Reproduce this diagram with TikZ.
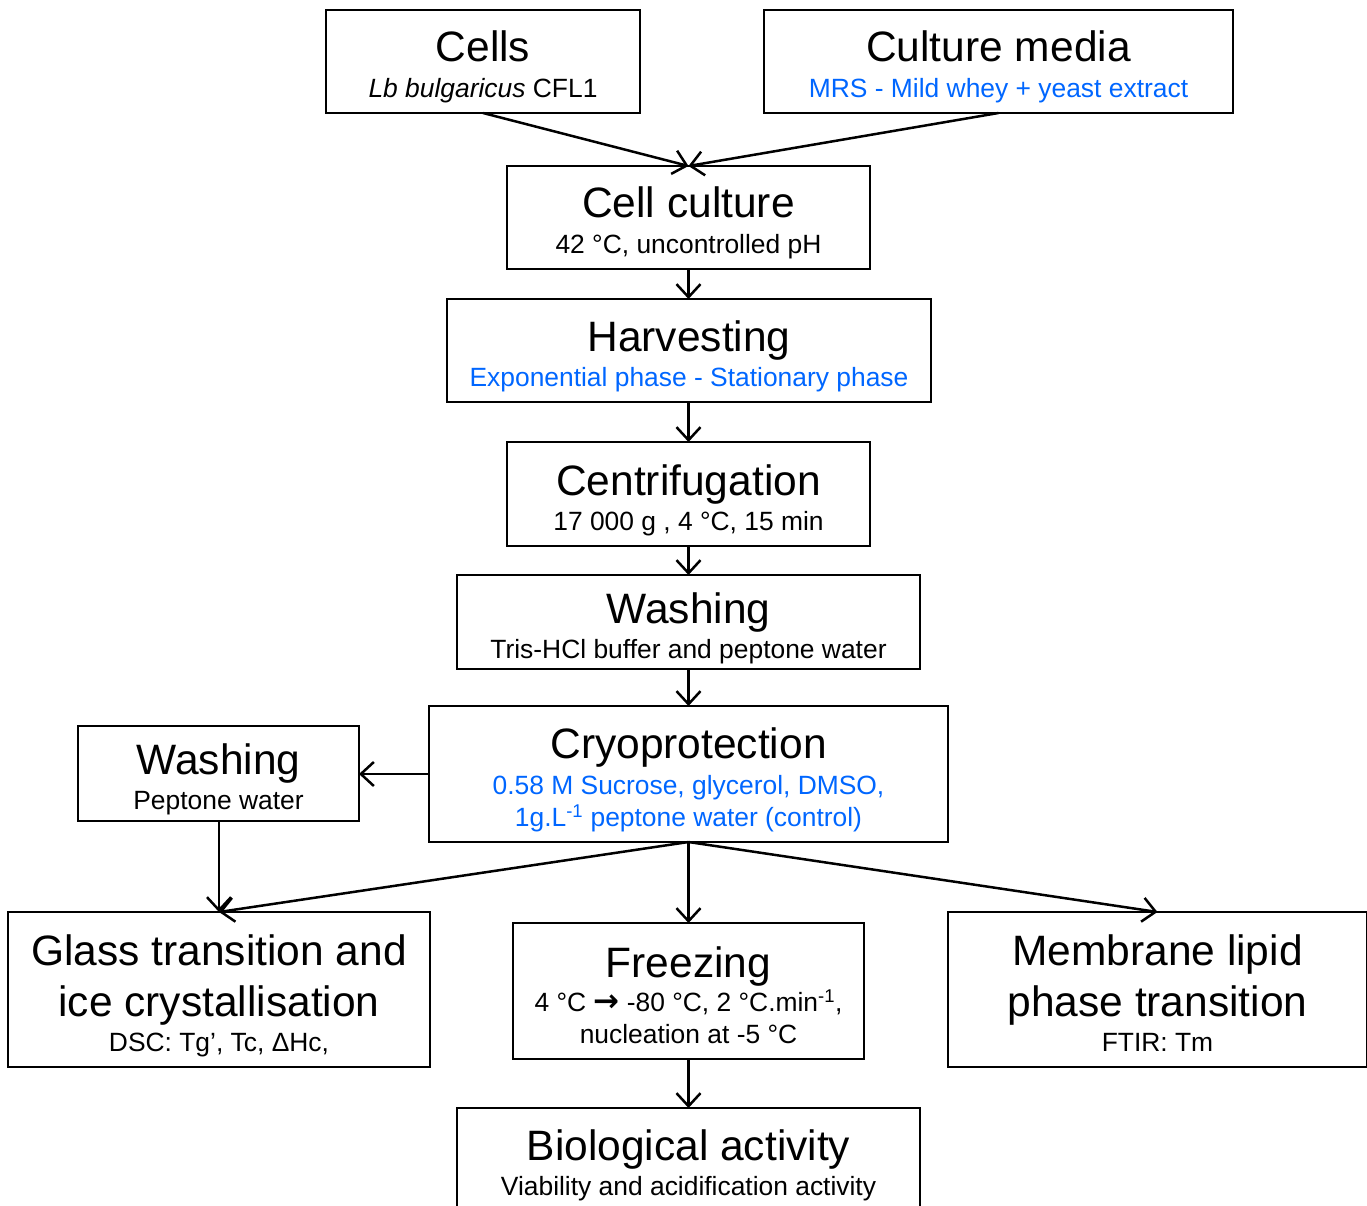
\documentclass[tikz,border=0pt]{standalone}
\usepackage{fontspec}
\setmainfont{Liberation Sans}
\newfontfamily\arrowfont{DejaVu Sans}
\usetikzlibrary{arrows.meta}
\definecolor{myblue}{RGB}{0,102,255}
\begin{document}
\begin{tikzpicture}[x=1pt,y=-1pt,
 box/.style={draw, line width=2.5pt, rectangle, inner sep=0pt, outer sep=0pt},
 ttl/.style={inner sep=0pt, anchor=base, font=\fontsize{42.5}{50}\selectfont},
 subt/.style={inner sep=0pt, anchor=base, font=\fontsize{26.4}{31}\selectfont},
 bsubt/.style={subt, text=myblue},
 arr/.style={line width=2.5pt, -{Straight Barb[length=13pt,width=24pt]}}]
\useasboundingbox (0,0) rectangle (1367,1206);
% boxes
\node[box, minimum width=314pt, minimum height=103pt] (cells) at (483,61.5) {};
\node[box, minimum width=469pt, minimum height=103pt] (media) at (998.5,61.5) {};
\node[box, minimum width=363pt, minimum height=103pt] (cc) at (688.5,217.5) {};
\node[box, minimum width=484pt, minimum height=103pt] (harv) at (689,350.5) {};
\node[box, minimum width=363pt, minimum height=104pt] (cent) at (688.5,494) {};
\node[box, minimum width=463pt, minimum height=94pt] (wash) at (688.5,622) {};
\node[box, minimum width=519pt, minimum height=136pt] (cryo) at (688.5,774) {};
\node[box, minimum width=281pt, minimum height=95pt] (lw) at (218.5,773.5) {};
\node[box, minimum width=422pt, minimum height=155pt] (glass) at (219,989.5) {};
\node[box, minimum width=351pt, minimum height=136pt] (freez) at (688.5,991) {};
\node[box, minimum width=419pt, minimum height=155pt] (memb) at (1157.5,989.5) {};
\node[box, minimum width=463pt, minimum height=124pt] (bio) at (688.5,1170) {};
% texts
\node[ttl] (cellsT) at (483,62) {Cells};
\node[subt] (cellsS) at (483,97.3) {\itshape Lb bulgaricus\upshape{} CFL1};
\node[ttl] (mediaT) at (998.5,62) {Culture media};
\node[bsubt] (mediaS) at (998.5,97.3) {MRS - Mild whey + yeast extract};
\node[ttl] (ccT) at (688.5,218) {Cell culture};
\node[subt] (ccS) at (688.5,253.3) {42 °C, uncontrolled pH};
\node[ttl] (harvT) at (689,351) {Harvesting};
\node[bsubt] (harvS) at (689,386.3) {Exponential phase - Stationary phase};
\node[ttl] (centT) at (688.5,495) {Centrifugation};
\node[subt] (centS) at (688.5,530.3) {17 000 g , 4 °C, 15 min};
\node[ttl] (washT) at (688.5,623) {Washing};
\node[subt] (washS) at (688.5,658.3) {Tris-HCl buffer and peptone water};
\node[ttl] (cryoT) at (688.5,758) {Cryoprotection};
\node[bsubt] (cryoS1) at (688.5,794.3) {0.58 M Sucrose, glycerol, DMSO,};
\node[bsubt] (cryoS2) at (688.5,826.3) {1g.L\textsuperscript{-1} peptone water (control)};
\node[ttl] (lwT) at (218.5,774) {Washing};
\node[subt] (lwS) at (218.5,809.3) {Peptone water};
\node[ttl] (glassT1) at (219,965) {Glass transition and};
\node[ttl] (glassT2) at (219,1016) {ice crystallisation};
\node[subt] (glassS) at (219,1051.3) {DSC: Tg’, Tc, ΔHc,};
\node[ttl] (freezT) at (688.5,977) {Freezing};
\node[subt] (freezS1) at (688.5,1011.3) {4 °C {\arrowfont\bfseries\fontsize{31}{31}\selectfont →} -80 °C, 2 °C.min\textsuperscript{-1},};
\node[subt] (freezS2) at (688.5,1043.3) {nucleation at -5 °C};
\node[ttl] (membT1) at (1157.5,965) {Membrane lipid};
\node[ttl] (membT2) at (1157.5,1016) {phase transition};
\node[subt] (membS) at (1157.5,1051.3) {FTIR: Tm};
\node[ttl] (bioT) at (688.5,1160) {Biological activity};
\node[subt] (bioS) at (688.5,1195.3) {Viability and acidification activity};
% connectors
\draw[arr] (cells.south) -- (cc.north);
\draw[arr] (media.south) -- (cc.north);
\draw[arr] (cc.south) -- (cc.south |- harv.north);
\draw[arr] (harv.south -| cc.south) -- (cent.north);
\draw[arr] (cent.south) -- (wash.north);
\draw[arr] (wash.south) -- (cryo.north);
\draw[arr] (cryo.west) -- (cryo.west -| lw.east);
\draw[arr] (lw.south -| glass.north) -- (glass.north);
\draw[arr] (cryo.south) -- (glass.north);
\draw[arr] (cryo.south) -- (freez.north);
\draw[arr] (cryo.south) -- (memb.north);
\draw[arr] (freez.south) -- (bio.north);
\end{tikzpicture}
\end{document}
